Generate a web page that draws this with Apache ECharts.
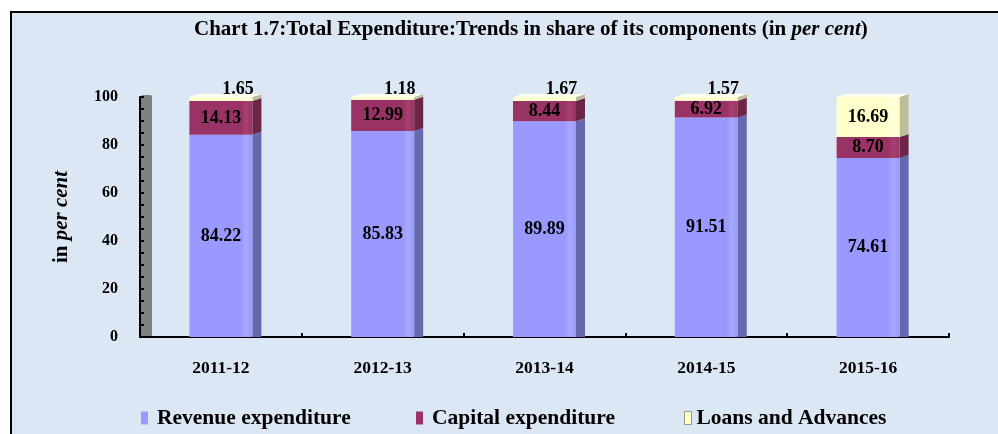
<!DOCTYPE html>
<html>
<head>
<meta charset="utf-8">
<script src="https://cdn.jsdelivr.net/npm/echarts@6/dist/echarts.min.js"></script>
<style>
  html, body { margin: 0; padding: 0; background: #ffffff; }
  #chart { width: 998px; height: 434px; }
</style>
</head>
<body>
<div id="chart"></div>
<script>
// ---- data ----
const categories = ['2011-12', '2012-13', '2013-14', '2014-15', '2015-16'];
const seriesNames = ['Revenue expenditure', 'Capital expenditure', 'Loans and Advances'];
const revenue = [84.22, 85.83, 89.89, 91.51, 74.61];
const capital = [14.13, 12.99, 8.44, 6.92, 8.70];
const loans = [1.65, 1.18, 1.67, 1.57, 16.69];
const loansLabelOutside = [true, true, true, true, false];
const yMin = 0, yMax = 100, yStep = 20;

// ---- styles ----
const FONT = "'Liberation Serif', 'Times New Roman', serif";
const faces = [
  { front: '#9999ff', hi: '#a9a9ff', side: '#6767ad', top: '#b4b4ff' },
  { front: '#993366', hi: '#a6416f', side: '#6c2447', top: '#b04a7c' },
  { front: '#ffffcc', hi: '#ffffdf', side: '#bdbd98', top: '#fffff0' }
];
const FRONT_W = 63, DEPTH = 9, DY = 3;

function grad(f) {
  return {
    type: 'linear', x: 0, y: 0, x2: 1, y2: 0,
    colorStops: [
      { offset: 0, color: f.front },
      { offset: 0.82, color: f.front },
      { offset: 0.9, color: f.hi },
      { offset: 1, color: f.front }
    ]
  };
}

const stacks = [revenue, capital, loans];
// side/top faces data: [catIndex, base, top, seriesIndex, isTop]
const faceData = [];
categories.forEach((c, i) => {
  let base = 0;
  stacks.forEach((arr, s) => {
    const top = base + arr[i];
    faceData.push([i, base, top, s, s === stacks.length - 1 ? 1 : 0]);
    base = top;
  });
});

const labelStyle = {
  show: true, position: 'inside', color: '#000', fontFamily: FONT,
  fontWeight: 'bold', fontSize: 18,
  formatter: p => Number(p.value).toFixed(2)
};

const chart = echarts.init(document.getElementById('chart'), null, { renderer: 'canvas' });

function legendAt(left, item, padLeft) {
  return {
    orient: 'horizontal', top: 407, left: left, padding: 0, itemWidth: 7, itemHeight: 13, icon: 'rect',
    textStyle: { fontFamily: FONT, fontWeight: 'bold', fontSize: 21.5, color: '#000', padding: [0, 0, 0, padLeft] },
    selectedMode: false,
    data: [item]
  };
}

chart.setOption({
  backgroundColor: '#ffffff',
  animation: false,
  graphic: [
    { type: 'rect', z: -10, shape: { x: 11, y: 12, width: 1000, height: 500 },
      style: { fill: '#dbe7f4', stroke: '#000', lineWidth: 2 } },
    { type: 'rect', z: -5, shape: { x: 141, y: 95, width: 11, height: 241, r: [2, 2, 0, 0] },
      style: { fill: '#808080' } }
  ],
  title: {
    left: 194, top: 19, padding: 0,
    text: '{b|Chart 1.7:Total Expenditure:Trends in share of its components (in }{i|per cent}{b|)}',
    textStyle: {
      rich: {
        b: { fontFamily: FONT, fontWeight: 'bold', fontSize: 21, color: '#000' },
        i: { fontFamily: FONT, fontWeight: 'bold', fontStyle: 'italic', fontSize: 21, color: '#000' }
      }
    }
  },
  legend: [
    legendAt(141, { name: seriesNames[0], itemStyle: { color: faces[0].front } }, 4),
    legendAt(416, { name: seriesNames[1], itemStyle: { color: faces[1].front } }, 4),
    legendAt(684, { name: seriesNames[2], itemStyle: { color: faces[2].front, borderColor: '#9a9a80', borderWidth: 1 } }, 0)
  ],
  grid: { left: 140, right: 49, top: 97, bottom: 97, containLabel: false },
  xAxis: [
    {
      type: 'category', data: categories, boundaryGap: true,
      axisLine: { show: true, lineStyle: { color: '#000', width: 2 } },
      axisTick: { show: false },
      axisLabel: { margin: 22, color: '#000', fontFamily: FONT, fontWeight: 'bold', fontSize: 17.5 },
      splitLine: { show: false }
    },
    {
      type: 'category', data: categories.flatMap(c => [c + 'a', c + 'b']), boundaryGap: true,
      position: 'bottom',
      axisLine: { show: false },
      axisTick: { show: true, inside: true, length: 4, lineStyle: { color: '#000', width: 2 } },
      axisLabel: { show: false },
      splitLine: { show: false }
    }
  ],
  yAxis: {
    type: 'value', min: yMin, max: yMax, interval: yStep,
    name: '{a|in }{b|per cent}',
    nameLocation: 'middle', nameRotate: 90, nameGap: 68,
    nameTextStyle: {
      rich: {
        a: { fontFamily: FONT, fontWeight: 'bold', fontSize: 21, color: '#000' },
        b: { fontFamily: FONT, fontWeight: 'bold', fontStyle: 'italic', fontSize: 21, color: '#000' }
      }
    },
    axisLine: { show: true, lineStyle: { color: '#000', width: 2 } },
    axisTick: { show: true, inside: true, length: 4, lineStyle: { color: '#000', width: 2 } },
    minorTick: { show: true, splitNumber: 4, length: 4, lineStyle: { color: '#000', width: 2 } },
    axisLabel: { margin: 22, color: '#000', fontFamily: FONT, fontWeight: 'bold', fontSize: 16 },
    splitLine: { show: false }
  },
  series: [
    {
      name: seriesNames[0], type: 'bar', stack: 'total', barWidth: FRONT_W, z: 3,
      itemStyle: { color: grad(faces[0]) },
      label: labelStyle,
      data: revenue
    },
    {
      name: seriesNames[1], type: 'bar', stack: 'total', barWidth: FRONT_W, z: 3,
      itemStyle: { color: grad(faces[1]) },
      label: labelStyle,
      data: capital
    },
    {
      name: seriesNames[2], type: 'bar', stack: 'total', barWidth: FRONT_W, z: 3,
      itemStyle: { color: grad(faces[2]) },
      label: labelStyle,
      data: loans.map((v, i) => loansLabelOutside[i]
        ? { value: v, label: { position: 'top', distance: 2, offset: [17, 3] } }
        : { value: v })
    },
    {
      type: 'custom', z: 2, silent: true,
      data: faceData,
      renderItem: function (params, api) {
        const i = api.value(0), b = api.value(1), t = api.value(2), s = api.value(3), isTop = api.value(4);
        const pb = api.coord([i, b]);
        const pt = api.coord([i, t]);
        const x0 = pb[0] - FRONT_W / 2, x1 = pb[0] + FRONT_W / 2;
        const yb = pb[1], yt = pt[1];
        const ybs = b === 0 ? yb : yb - DY;
        const f = faces[s];
        const children = [{
          type: 'polygon',
          shape: { points: [[x1, yt], [x1 + DEPTH, yt - DY], [x1 + DEPTH, ybs], [x1, yb]] },
          style: { fill: f.side }
        }];
        if (isTop) {
          children.push({
            type: 'polygon',
            shape: { points: [[x0, yt], [x0 + DEPTH, yt - DY], [x1 + DEPTH, yt - DY], [x1, yt]] },
            style: { fill: f.top }
          });
        }
        return { type: 'group', children: children };
      }
    }
  ]
});
</script>
</body>
</html>
